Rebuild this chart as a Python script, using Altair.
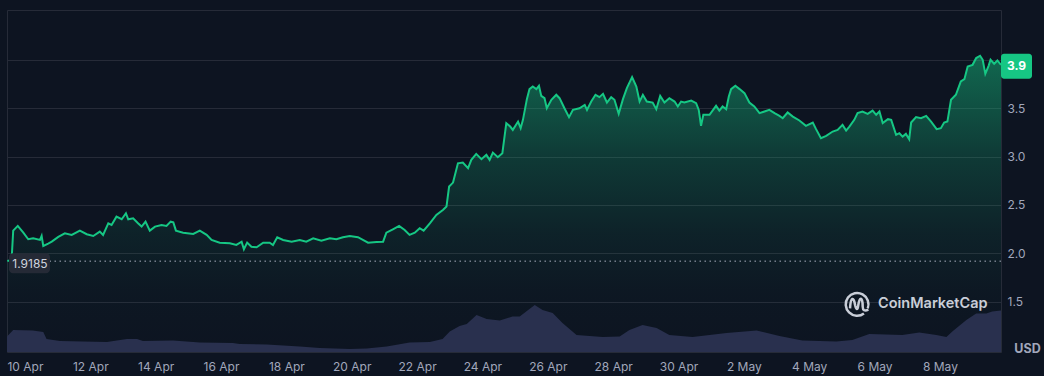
import json
import altair as alt
import pandas as pd

# ---------------- data (days since 10 Apr 00:00) ----------------
price_day = [
    -0.54, -0.41, -0.36, -0.22, -0.05, 0.10, 0.25, 0.46, 0.51, 0.56,
    0.71, 0.82, 1.02, 1.22, 1.43, 1.68, 1.89, 2.09, 2.29, 2.39,
    2.55, 2.65, 2.80, 2.96, 3.09, 3.16, 3.31, 3.46, 3.57, 3.69,
    3.82, 3.98, 4.18, 4.33, 4.46, 4.54, 4.62, 4.84, 5.15, 5.35,
    5.56, 5.71, 5.96, 6.27, 6.47, 6.63, 6.70, 6.80, 6.93, 7.09,
    7.29, 7.49, 7.59, 7.72, 7.90, 8.16, 8.41, 8.61, 8.82, 9.07,
    9.33, 9.53, 9.73, 9.94, 10.19, 10.50, 10.76, 10.96, 11.06, 11.26,
    11.45, 11.62, 11.77, 11.93, 12.08, 12.20, 12.39, 12.59, 12.79, 12.90,
    12.98, 13.10, 13.25, 13.40, 13.56, 13.66, 13.81, 13.97, 14.12, 14.22,
    14.32, 14.47, 14.61, 14.73, 14.85, 14.93, 15.09, 15.17, 15.24, 15.36,
    15.44, 15.54, 15.65, 15.73, 15.80, 15.90, 15.97, 16.11, 16.26, 16.36,
    16.51, 16.65, 16.77, 16.97, 17.13, 17.20, 17.33, 17.46, 17.58, 17.69,
    17.81, 17.94, 18.04, 18.17, 18.30, 18.42, 18.58, 18.71, 18.81, 18.91,
    19.03, 19.21, 19.32, 19.44, 19.57, 19.72, 19.88, 19.98, 20.08, 20.18,
    20.39, 20.54, 20.62, 20.69, 20.76, 20.95, 21.15, 21.25, 21.35, 21.46,
    21.54, 21.61, 21.74, 21.87, 22.02, 22.17, 22.32, 22.48, 22.63, 22.78,
    22.94, 23.09, 23.19, 23.34, 23.50, 23.70, 23.90, 24.11, 24.21, 24.36,
    24.52, 24.72, 24.87, 25.02, 25.13, 25.23, 25.38, 25.48, 25.63, 25.79,
    25.94, 26.05, 26.15, 26.25, 26.41, 26.51, 26.66, 26.76, 26.86, 26.96,
    27.06, 27.12, 27.27, 27.42, 27.58, 27.73, 27.90, 28.03, 28.13, 28.23,
    28.34, 28.49, 28.64, 28.75, 28.85, 29.00, 29.11, 29.23, 29.31, 29.39,
    29.49, 29.55, 29.66, 29.76, 29.87,
]
price_usd = [
    1.92, 1.93, 2.234, 2.283, 2.213, 2.145, 2.155, 2.138, 2.179, 2.076,
    2.10, 2.12, 2.17, 2.207, 2.19, 2.234, 2.197, 2.179, 2.224, 2.19,
    2.31, 2.293, 2.379, 2.352, 2.414, 2.352, 2.362, 2.31, 2.276, 2.327,
    2.234, 2.276, 2.293, 2.283, 2.327, 2.32, 2.234, 2.213, 2.20, 2.234,
    2.19, 2.138, 2.11, 2.104, 2.086, 2.12, 2.041, 2.11, 2.068, 2.062,
    2.11, 2.11, 2.086, 2.166, 2.138, 2.12, 2.138, 2.12, 2.155, 2.13,
    2.155, 2.145, 2.166, 2.179, 2.166, 2.11, 2.117, 2.12, 2.213, 2.248,
    2.283, 2.241, 2.19, 2.213, 2.259, 2.234, 2.31, 2.396, 2.448, 2.483,
    2.69, 2.731, 2.93, 2.938, 2.88, 2.966, 3.028, 2.973, 3.018, 2.966,
    3.041, 2.994, 3.035, 3.346, 3.311, 3.276, 3.362, 3.294, 3.38, 3.594,
    3.698, 3.725, 3.698, 3.732, 3.628, 3.604, 3.50, 3.587, 3.639, 3.604,
    3.50, 3.408, 3.483, 3.50, 3.535, 3.483, 3.569, 3.639, 3.615, 3.649,
    3.559, 3.615, 3.587, 3.442, 3.594, 3.708, 3.822, 3.725, 3.569, 3.639,
    3.569, 3.559, 3.49, 3.628, 3.559, 3.604, 3.569, 3.518, 3.569, 3.559,
    3.58, 3.553, 3.483, 3.318, 3.432, 3.432, 3.525, 3.476, 3.518, 3.49,
    3.621, 3.698, 3.732, 3.698, 3.656, 3.559, 3.518, 3.449, 3.466, 3.483,
    3.449, 3.421, 3.397, 3.456, 3.414, 3.373, 3.318, 3.352, 3.284, 3.19,
    3.214, 3.259, 3.276, 3.328, 3.269, 3.31, 3.38, 3.449, 3.466, 3.442,
    3.476, 3.432, 3.466, 3.346, 3.387, 3.38, 3.225, 3.242, 3.207, 3.235,
    3.18, 3.352, 3.408, 3.397, 3.421, 3.362, 3.284, 3.294, 3.352, 3.362,
    3.587, 3.639, 3.777, 3.801, 3.932, 3.949, 4.019, 4.043, 4.001, 3.856,
    3.939, 4.001, 3.96, 3.994, 3.949,
]
volume_day = [
    -0.55, -0.36, 0.24, 0.56, 0.66, 1.07, 1.77, 2.51, 3.12, 3.43,
    3.61, 4.53, 5.35, 6.36, 6.57, 7.40, 8.41, 9.02, 9.94, 10.46,
    11.07, 11.77, 12.39, 12.78, 13.00, 13.30, 13.52, 13.82, 14.13, 14.53,
    14.92, 15.14, 15.60, 15.84, 16.15, 16.45, 16.88, 17.68, 18.20, 18.50,
    18.90, 19.33, 19.72, 20.43, 21.47, 22.39, 23.09, 23.79, 24.83, 25.32,
    25.84, 26.85, 27.37, 27.89, 28.20, 28.38, 28.81, 29.11, 29.42, 29.60,
    29.87,
]
volume_musd = [
    31, 44, 43, 40, 26, 22, 21, 20, 26, 26,
    22, 23, 19, 18, 16, 15, 11, 8, 6, 7,
    11, 19, 20, 26, 41, 52, 56, 74, 66, 63,
    71, 71, 94, 84, 78, 58, 34, 30, 31, 44,
    54, 48, 34, 30, 38, 43, 32, 23, 21, 24,
    36, 34, 39, 34, 30, 41, 64, 77, 77, 81,
    83,
]
tick_days = [0, 2, 4, 6, 8, 10, 12, 14, 16, 18, 20, 22, 24, 26, 28]
tick_labels = ["10 Apr", "12 Apr", "14 Apr", "16 Apr", "18 Apr", "20 Apr",
               "22 Apr", "24 Apr", "26 Apr", "28 Apr", "30 Apr", "2 May",
               "4 May", "6 May", "8 May"]
price_ticks = [1.5, 2.0, 2.5, 3.0, 3.5, 4.0]
open_price = 1.9185
last_price = price_usd[-1]
currency = "USD"
brand = "CoinMarketCap"

# ---------------- styling ----------------
BG = "#0d1421"
GRID = "#262b38"
GREEN = "#16c784"
LABEL = "#a1a7bb"
FONT = "Inter"
LOGO = "#c9ced8"

df_p = pd.DataFrame({"day": price_day, "price": price_usd})
df_v = pd.DataFrame({"day": volume_day, "vol": volume_musd})
df_one = pd.DataFrame({"k": [0]})

xscale = alt.Scale(domain=[-0.55, 29.87], nice=False, zero=False)
yscale = alt.Scale(domain=[0.979, 4.516], nice=False, zero=False)

label_expr = json.dumps(tick_labels) + "[round(datum.value / 2)]"
xaxis = alt.Axis(values=tick_days, labelExpr=label_expr, ticks=False, domain=False,
                 grid=False, labelPadding=9, labelFontSize=12, labelColor=LABEL,
                 labelFont=FONT, labelFlush=False, labelOverlap=False, title=None)
X = alt.X("day:Q", scale=xscale, axis=xaxis)

yaxis = alt.Axis(orient="right", values=price_ticks,
                 labelExpr="datum.value >= 4 ? '' : format(datum.value, '.1f')",
                 ticks=False, domain=False, grid=True, gridColor=GRID, gridWidth=1,
                 labelPadding=6, labelAlign="left", labelFontSize=12, labelColor=LABEL,
                 labelFont=FONT, labelFlush=False, title=None)

grad = alt.Gradient(
    gradient="linear",
    stops=[
        alt.GradientStop(color="rgba(22,199,132,0.47)", offset=0),
        alt.GradientStop(color="rgba(22,199,132,0.21)", offset=0.34),
        alt.GradientStop(color="rgba(22,199,132,0.08)", offset=0.6),
        alt.GradientStop(color="rgba(22,199,132,0.02)", offset=0.8),
        alt.GradientStop(color="rgba(22,199,132,0.0)", offset=1),
    ],
    x1=1, x2=1, y1=0, y2=1,
)

area = alt.Chart(df_p).mark_area(color=grad).encode(
    x=X,
    y=alt.Y("price:Q", scale=yscale, axis=None),
    y2=alt.datum(0.979),
)

volume = alt.Chart(df_v).mark_area(color="#29304e", interpolate="linear").encode(
    x=X,
    y=alt.Y("vol:Q", scale=alt.Scale(domain=[0, 684], nice=False), axis=None),
)

line = alt.Chart(df_p).mark_line(color=GREEN, strokeWidth=2).encode(
    x=X,
    y=alt.Y("price:Q", scale=yscale, axis=yaxis),
)

rule = alt.Chart(df_one).mark_rule(color="#a7adbd", strokeDash=[1.5, 3.5], strokeWidth=1).encode(
    y=alt.datum(open_price)
)
open_box = alt.Chart(df_one).mark_rect(color="#252a36", cornerRadius=4, yOffset=-8, y2Offset=12).encode(
    x=alt.value(2), x2=alt.value(43), y=alt.datum(open_price), y2=alt.datum(open_price)
)
open_txt = alt.Chart(df_one).mark_text(color="#cfd4df", fontSize=12, font=FONT, align="center",
                                       baseline="middle", dy=2.5).encode(
    x=alt.value(23), y=alt.datum(open_price), text=alt.value(f"{open_price}")
)
badge = alt.Chart(df_one).mark_rect(color=GREEN, cornerRadius=3, yOffset=-11, y2Offset=14).encode(
    x=alt.value(994), x2=alt.value(1025), y=alt.datum(last_price), y2=alt.datum(last_price)
)
badge_txt = alt.Chart(df_one).mark_text(color="white", fontSize=12, fontWeight="bold", font=FONT,
                                        align="center", baseline="middle", dy=1.5).encode(
    x=alt.value(1009.5), y=alt.datum(last_price), text=alt.value(f"{last_price:.1f}")
)

inner = alt.layer(line, rule, open_box, open_txt, badge, badge_txt)

usd = alt.Chart(df_one).mark_text(color=LABEL, fontSize=12.5, fontWeight="bold", font=FONT,
                                  align="center", baseline="middle").encode(
    x=alt.value(1020.5), y=alt.value(339), text=alt.value(currency)
)
logo_ring = alt.Chart(df_one).mark_point(
    shape="M0.55,0.75 A0.9,0.9 0 1 1 0.85,0.35",
    filled=False, size=640, strokeWidth=2.5, color=LOGO, opacity=1).encode(
    x=alt.value(850), y=alt.value(294)
)
logo_m = alt.Chart(df_one).mark_point(
    shape="M-0.55,0.35 C-0.5,-0.6 -0.25,-0.6 -0.15,0.1 C-0.05,0.5 0.05,0.5 0.1,0.1 "
          "C0.2,-0.6 0.45,-0.6 0.45,0.2 C0.45,0.5 0.6,0.6 0.9,0.45",
    filled=False, size=640, strokeWidth=2.5, color=LOGO, opacity=1).encode(
    x=alt.value(850), y=alt.value(294)
)
brand_txt = alt.Chart(df_one).mark_text(color=LOGO, fontSize=14.5, fontWeight=600, font=FONT,
                                        align="left", baseline="middle").encode(
    x=alt.value(871), y=alt.value(294), text=alt.value(brand)
)

chart = alt.layer(area, volume, inner, usd, logo_ring, logo_m, brand_txt).resolve_scale(
    y="independent"
).properties(
    width=994, height=342,
    padding={"left": 7, "top": 10, "right": 43, "bottom": 24},
    autosize=alt.AutoSizeParams(type="none"),
    background=BG,
).configure_view(stroke=GRID, strokeWidth=1)

chart.save("out.html", embed_options={"renderer": "svg", "actions": False})
